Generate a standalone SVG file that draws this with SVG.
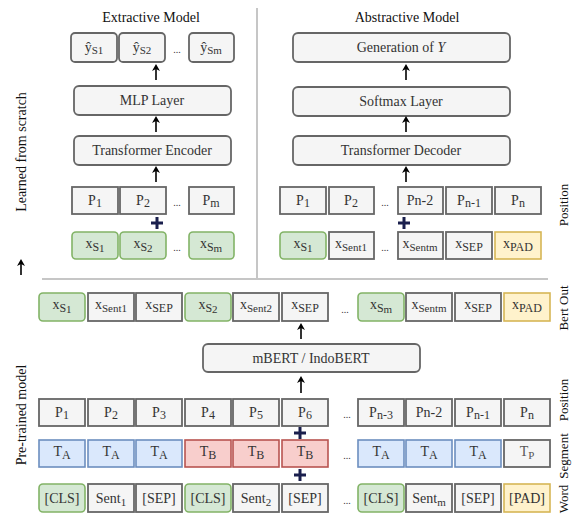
<svg xmlns="http://www.w3.org/2000/svg" width="574" height="515" viewBox="0 0 574 515">
<style>
.g{fill:#f5f5f5;stroke:#666;stroke-width:1.8}
.gr{fill:#d5e8d4;stroke:#82b366;stroke-width:1.6}
.bl{fill:#dae8fc;stroke:#6c8ebf;stroke-width:1.6}
.rd{fill:#f8cecc;stroke:#b85450;stroke-width:1.6}
.yl{fill:#fff2cc;stroke:#d6b656;stroke-width:1.6}
text{font-family:'Liberation Serif','Times New Roman','DejaVu Serif',serif}
.t{font-size:14px;fill:#333;text-anchor:middle}
.h{font-size:14px;fill:#111;text-anchor:middle}
.r{font-size:13px;fill:#111;text-anchor:middle}
.d{font-size:10px;fill:#333;text-anchor:middle}
.s{font-size:12px}
.ss{font-size:11px}
.ar{stroke:#000;stroke-width:1.6;fill:none;marker-end:url(#ah)}
.pl{stroke:#1a1f4d;stroke-width:3}
.sep{stroke:#b3b3b3;stroke-width:1.5}
</style>
<defs>
<marker id="ah" markerWidth="8" markerHeight="8" refX="5" refY="4" orient="auto" markerUnits="userSpaceOnUse">
<path d="M0,0 L7,4 L0,8 L2,4 Z" fill="#000"/>
</marker>
</defs>

<!-- titles and side labels -->
<text class="h" x="151" y="22">Extractive Model</text>
<text class="h" x="407" y="22">Abstractive Model</text>
<text class="h" transform="translate(26,152) rotate(-90)">Learned from scratch</text>
<text class="h" transform="translate(26,415) rotate(-90)">Pre-trained model</text>
<text class="r" transform="translate(568,205) rotate(-90)">Position</text>
<text class="r" transform="translate(568,308) rotate(-90)">Bert Out</text>
<text class="r" transform="translate(568,400) rotate(-90)">Position</text>
<text class="r" transform="translate(568,456) rotate(-90)">Segment</text>
<text class="r" transform="translate(568,499) rotate(-90)">Word</text>

<!-- separators -->
<line class="sep" x1="257" y1="8" x2="257" y2="278"/>
<line class="sep" x1="42" y1="279" x2="548" y2="279"/>

<!-- Extractive model -->
<g id="ext_y1"><rect class="g" x="71" y="33" width="46" height="29" rx="4"/><text class="t" x="94" y="52">ŷ<tspan class="ss" dy="2">S1</tspan></text></g>
<g id="ext_y2"><rect class="g" x="119" y="33" width="46" height="29" rx="4"/><text class="t" x="142" y="52">ŷ<tspan class="ss" dy="2">S2</tspan></text></g>
<text class="d" x="177" y="53">...</text>
<g id="ext_ym"><rect class="g" x="189" y="33" width="45" height="29" rx="4"/><text class="t" x="211" y="52">ŷ<tspan class="ss" dy="2">Sm</tspan></text></g>
<g id="mlp"><rect class="g" x="74" y="86" width="157" height="29" rx="5"/><text class="t" x="152" y="105">MLP Layer</text></g>
<g id="encoder"><rect class="g" x="74" y="136" width="157" height="29" rx="5"/><text class="t" x="152" y="155">Transformer Encoder</text></g>
<g id="ext_p1"><rect class="g" x="72" y="187" width="46" height="27"/><text class="t" x="95" y="205">P<tspan class="s" dy="2">1</tspan></text></g>
<g id="ext_p2"><rect class="g" x="120" y="187" width="46" height="27"/><text class="t" x="143" y="205">P<tspan class="s" dy="2">2</tspan></text></g>
<text class="d" x="177" y="206">...</text>
<g id="ext_pm"><rect class="g" x="189" y="187" width="45" height="27"/><text class="t" x="211" y="205">P<tspan class="s" dy="2">m</tspan></text></g>
<g id="ext_x1"><rect class="gr" x="72" y="232" width="46" height="27" rx="4"/><text class="t" x="95" y="248">x<tspan class="s" dy="3">S</tspan><tspan class="ss" dy="1">1</tspan></text></g>
<g id="ext_x2"><rect class="gr" x="120" y="232" width="46" height="27" rx="4"/><text class="t" x="143" y="248">x<tspan class="s" dy="3">S</tspan><tspan class="ss" dy="1">2</tspan></text></g>
<text class="d" x="177" y="251">...</text>
<g id="ext_xm"><rect class="gr" x="189" y="232" width="45" height="27" rx="4"/><text class="t" x="211" y="248">x<tspan class="s" dy="3">S</tspan><tspan class="ss" dy="1">m</tspan></text></g>

<!-- Abstractive model -->
<g id="generation"><rect class="g" x="293" y="33" width="217" height="29" rx="5"/><text class="t" x="401" y="52">Generation of <tspan font-style="italic">Y</tspan></text></g>
<g id="softmax"><rect class="g" x="293" y="87" width="217" height="29" rx="5"/><text class="t" x="401" y="106">Softmax Layer</text></g>
<g id="decoder"><rect class="g" x="293" y="136" width="217" height="29" rx="5"/><text class="t" x="401" y="155">Transformer Decoder</text></g>
<g id="abs_p1"><rect class="g" x="280" y="187" width="46" height="27"/><text class="t" x="303" y="205">P<tspan class="s" dy="2">1</tspan></text></g>
<g id="abs_p2"><rect class="g" x="329" y="187" width="45" height="27"/><text class="t" x="351" y="205">P<tspan class="s" dy="2">2</tspan></text></g>
<text class="d" x="385" y="206">...</text>
<g id="abs_pn2"><rect class="g" x="398" y="187" width="45" height="27"/><text class="t" x="420" y="205">Pn-2</text></g>
<g id="abs_pn1"><rect class="g" x="446" y="187" width="46" height="27"/><text class="t" x="469" y="205">P<tspan class="s" dy="2">n-1</tspan></text></g>
<g id="abs_pn"><rect class="g" x="495" y="187" width="46" height="27"/><text class="t" x="518" y="205">P<tspan class="s" dy="2">n</tspan></text></g>
<g id="abs_x1"><rect class="gr" x="280" y="232" width="46" height="27" rx="4"/><text class="t" x="303" y="248">x<tspan class="s" dy="3">S</tspan><tspan class="ss" dy="1">1</tspan></text></g>
<g id="abs_xsent1"><rect class="g" x="329" y="232" width="45" height="27"/><text class="t" x="351" y="248">x<tspan class="ss" dy="3">Sent1</tspan></text></g>
<text class="d" x="385" y="251">...</text>
<g id="abs_xsentm"><rect class="g" x="398" y="232" width="45" height="27"/><text class="t" x="420" y="248">x<tspan class="ss" dy="3">Sentm</tspan></text></g>
<g id="abs_xsep"><rect class="g" x="446" y="232" width="46" height="27"/><text class="t" x="469" y="248">x<tspan class="s" dy="3">SEP</tspan></text></g>
<g id="abs_xpad"><rect class="yl" x="495" y="232" width="46" height="27"/><text class="t" x="518" y="248">x<tspan class="s" dy="3">PAD</tspan></text></g>

<!-- Bert out -->
<g id="bo_x1"><rect class="gr" x="39" y="293" width="46" height="28" rx="4"/><text class="t" x="62" y="309">x<tspan class="s" dy="3">S</tspan><tspan class="ss" dy="1">1</tspan></text></g>
<g id="bo_xsent1"><rect class="g" x="88" y="293" width="46" height="28"/><text class="t" x="111" y="309">x<tspan class="ss" dy="3">Sent1</tspan></text></g>
<g id="bo_xsep1"><rect class="g" x="136" y="293" width="46" height="28"/><text class="t" x="159" y="309">x<tspan class="s" dy="3">SEP</tspan></text></g>
<g id="bo_x2"><rect class="gr" x="185" y="293" width="46" height="28" rx="4"/><text class="t" x="208" y="309">x<tspan class="s" dy="3">S</tspan><tspan class="ss" dy="1">2</tspan></text></g>
<g id="bo_xsent2"><rect class="g" x="233" y="293" width="46" height="28"/><text class="t" x="256" y="309">x<tspan class="ss" dy="3">Sent2</tspan></text></g>
<g id="bo_xsep2"><rect class="g" x="282" y="293" width="46" height="28"/><text class="t" x="305" y="309">x<tspan class="s" dy="3">SEP</tspan></text></g>
<text class="d" x="345" y="313">...</text>
<g id="bo_xm"><rect class="gr" x="358" y="293" width="46" height="28" rx="4"/><text class="t" x="381" y="309">x<tspan class="s" dy="3">S</tspan><tspan class="ss" dy="1">m</tspan></text></g>
<g id="bo_xsentm"><rect class="g" x="406" y="293" width="46" height="28"/><text class="t" x="429" y="309">x<tspan class="ss" dy="3">Sentm</tspan></text></g>
<g id="bo_xsep3"><rect class="g" x="455" y="293" width="46" height="28"/><text class="t" x="478" y="309">x<tspan class="s" dy="3">SEP</tspan></text></g>
<g id="bo_xpad"><rect class="yl" x="504" y="293" width="46" height="28"/><text class="t" x="527" y="309">x<tspan class="s" dy="3">PAD</tspan></text></g>

<!-- BERT -->
<g id="mbert"><rect class="g" x="203" y="344" width="217" height="28" rx="5"/><text class="t" x="311" y="363">mBERT / IndoBERT</text></g>

<!-- Position row -->
<g id="pos1"><rect class="g" x="39" y="399" width="46" height="27"/><text class="t" x="62" y="417">P<tspan class="s" dy="2">1</tspan></text></g>
<g id="pos2"><rect class="g" x="88" y="399" width="46" height="27"/><text class="t" x="111" y="417">P<tspan class="s" dy="2">2</tspan></text></g>
<g id="pos3"><rect class="g" x="136" y="399" width="46" height="27"/><text class="t" x="159" y="417">P<tspan class="s" dy="2">3</tspan></text></g>
<g id="pos4"><rect class="g" x="185" y="399" width="46" height="27"/><text class="t" x="208" y="417">P<tspan class="s" dy="2">4</tspan></text></g>
<g id="pos5"><rect class="g" x="233" y="399" width="46" height="27"/><text class="t" x="256" y="417">P<tspan class="s" dy="2">5</tspan></text></g>
<g id="pos6"><rect class="g" x="282" y="399" width="46" height="27"/><text class="t" x="305" y="417">P<tspan class="s" dy="2">6</tspan></text></g>
<text class="d" x="347" y="418">...</text>
<g id="posn3"><rect class="g" x="358" y="399" width="46" height="27"/><text class="t" x="381" y="417">P<tspan class="s" dy="2">n-3</tspan></text></g>
<g id="posn2"><rect class="g" x="406" y="399" width="46" height="27"/><text class="t" x="429" y="417">Pn-2</text></g>
<g id="posn1"><rect class="g" x="455" y="399" width="46" height="27"/><text class="t" x="478" y="417">P<tspan class="s" dy="2">n-1</tspan></text></g>
<g id="posn"><rect class="g" x="504" y="399" width="46" height="27"/><text class="t" x="527" y="417">P<tspan class="s" dy="2">n</tspan></text></g>

<!-- Segment row -->
<g id="seg1"><rect class="bl" x="39" y="440" width="46" height="27"/><text class="t" x="62" y="456">T<tspan class="s" dy="3">A</tspan></text></g>
<g id="seg2"><rect class="bl" x="88" y="440" width="46" height="27"/><text class="t" x="111" y="456">T<tspan class="s" dy="3">A</tspan></text></g>
<g id="seg3"><rect class="bl" x="136" y="440" width="46" height="27"/><text class="t" x="159" y="456">T<tspan class="s" dy="3">A</tspan></text></g>
<g id="seg4"><rect class="rd" x="185" y="440" width="46" height="27"/><text class="t" x="208" y="456">T<tspan class="s" dy="3">B</tspan></text></g>
<g id="seg5"><rect class="rd" x="233" y="440" width="46" height="27"/><text class="t" x="256" y="456">T<tspan class="s" dy="3">B</tspan></text></g>
<g id="seg6"><rect class="rd" x="282" y="440" width="46" height="27"/><text class="t" x="305" y="456">T<tspan class="s" dy="3">B</tspan></text></g>
<text class="d" x="347" y="459">...</text>
<g id="seg7"><rect class="bl" x="358" y="440" width="46" height="27"/><text class="t" x="381" y="456">T<tspan class="s" dy="3">A</tspan></text></g>
<g id="seg8"><rect class="bl" x="406" y="440" width="46" height="27"/><text class="t" x="429" y="456">T<tspan class="s" dy="3">A</tspan></text></g>
<g id="seg9"><rect class="bl" x="455" y="440" width="46" height="27"/><text class="t" x="478" y="456">T<tspan class="s" dy="3">A</tspan></text></g>
<g id="seg10"><rect class="g" x="504" y="440" width="46" height="27"/><text class="t" x="527" y="456" style="fill:#555">T<tspan class="ss" dy="3">P</tspan></text></g>

<!-- Word row -->
<g id="w1"><rect class="gr" x="39" y="484" width="46" height="28" rx="4"/><text class="t" x="62" y="503">[CLS]</text></g>
<g id="w2"><rect class="g" x="88" y="484" width="46" height="28"/><text class="t" x="111" y="503">Sent<tspan class="ss" dy="3">1</tspan></text></g>
<g id="w3"><rect class="g" x="136" y="484" width="46" height="28"/><text class="t" x="159" y="503">[SEP]</text></g>
<g id="w4"><rect class="gr" x="185" y="484" width="46" height="28" rx="4"/><text class="t" x="208" y="503">[CLS]</text></g>
<g id="w5"><rect class="g" x="233" y="484" width="46" height="28"/><text class="t" x="256" y="503">Sent<tspan class="ss" dy="3">2</tspan></text></g>
<g id="w6"><rect class="g" x="282" y="484" width="46" height="28"/><text class="t" x="305" y="503">[SEP]</text></g>
<text class="d" x="347" y="504">...</text>
<g id="w7"><rect class="gr" x="358" y="484" width="46" height="28" rx="4"/><text class="t" x="381" y="503">[CLS]</text></g>
<g id="w8"><rect class="g" x="406" y="484" width="46" height="28"/><text class="t" x="429" y="503">Sent<tspan class="ss" dy="3">m</tspan></text></g>
<g id="w9"><rect class="g" x="455" y="484" width="46" height="28"/><text class="t" x="478" y="503">[SEP]</text></g>
<g id="w10"><rect class="yl" x="504" y="484" width="46" height="28"/><text class="t" x="527" y="503">[PAD]</text></g>

<!-- connectors -->
<g id="connectors">
<line class="ar" x1="156" y1="80" x2="156" y2="66"/>
<line class="ar" x1="156" y1="132" x2="156" y2="118"/>
<line class="ar" x1="156" y1="182" x2="156" y2="168"/>
<line class="ar" x1="406" y1="80" x2="406" y2="66"/>
<line class="ar" x1="406" y1="132" x2="406" y2="118"/>
<line class="ar" x1="406" y1="182" x2="406" y2="168"/>
<line class="ar" x1="21" y1="275" x2="21" y2="261"/>
<line class="ar" x1="301" y1="339" x2="301" y2="325"/>
<line class="ar" x1="301" y1="393" x2="301" y2="378"/>
<path class="pl" d="M151,223 h12 M157,217 v12"/>
<path class="pl" d="M398,223 h12 M404,217 v12"/>
<path class="pl" d="M294,433 h12 M300,427 v12"/>
<path class="pl" d="M294,475 h12 M300,469 v12"/>
</g>
</svg>
